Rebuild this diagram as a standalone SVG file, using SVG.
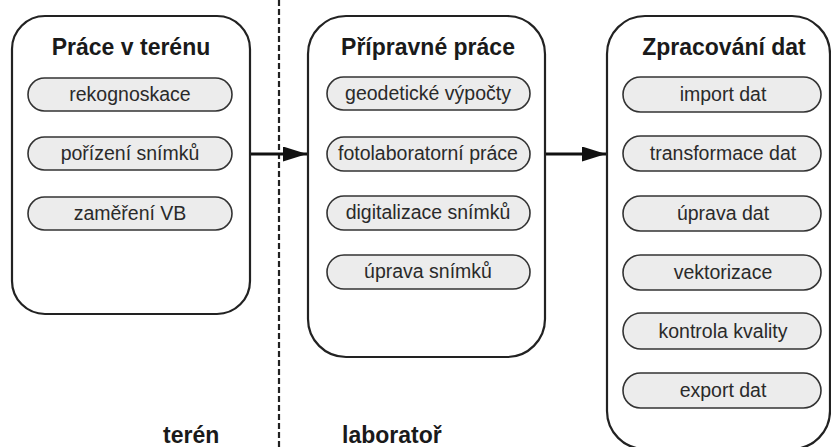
<svg xmlns="http://www.w3.org/2000/svg" width="831" height="447" viewBox="0 0 831 447">
<style>
.panel{fill:#fff;stroke:#222;stroke-width:2.2}
.pill{fill:#ececec;stroke:#333;stroke-width:1.6}
.title{font-family:"Liberation Sans",Arial,sans-serif;font-weight:bold;font-size:23px;fill:#1a1a1a;text-anchor:middle}
.item{font-family:"Liberation Sans",Arial,sans-serif;font-size:19.5px;fill:#2a2a2a;text-anchor:middle}
.zone{font-family:"Liberation Sans",Arial,sans-serif;font-weight:bold;font-size:23px;fill:#1a1a1a}
.conn{stroke:#111;stroke-width:3;fill:none}
</style>
<defs>
<marker id="ah" markerWidth="8" markerHeight="5" refX="8" refY="2.5" orient="auto" markerUnits="strokeWidth">
<path d="M0,0 L8,2.5 L0,5 Z" fill="#111"/>
</marker>
</defs>
<rect width="831" height="447" fill="#fff"/>
<line x1="279" y1="0" x2="279" y2="447" stroke="#222" stroke-width="2.2" stroke-dasharray="6 3"/>
<g id="teren">
<rect class="panel" x="12" y="16" width="238" height="298" rx="33"/>
<text class="title" x="131" y="55">Práce v terénu</text>
<rect class="pill" x="28" y="78" width="204" height="33" rx="16.5"/>
<text class="item" x="130" y="101">rekognoskace</text>
<rect class="pill" x="28" y="137" width="204" height="33" rx="16.5"/>
<text class="item" x="130" y="160">pořízení snímků</text>
<rect class="pill" x="28" y="197" width="204" height="33" rx="16.5"/>
<text class="item" x="130" y="220">zaměření VB</text>
</g>
<g id="pripravne">
<rect class="panel" x="308" y="16" width="237" height="341" rx="38"/>
<text class="title" x="428" y="55">Přípravné práce</text>
<rect class="pill" x="327" y="77" width="203" height="33" rx="16.5"/>
<text class="item" x="428" y="100">geodetické výpočty</text>
<rect class="pill" x="327" y="137" width="203" height="34" rx="17"/>
<text class="item" x="428" y="160">fotolaboratorní práce</text>
<rect class="pill" x="327" y="196" width="203" height="34" rx="17"/>
<text class="item" x="428" y="219">digitalizace snímků</text>
<rect class="pill" x="327" y="255" width="203" height="34" rx="17"/>
<text class="item" x="428" y="278">úprava snímků</text>
</g>
<g id="zpracovani">
<rect class="panel" x="607" y="16" width="223" height="433" rx="38"/>
<text class="title" x="724" y="55">Zpracování dat</text>
<rect class="pill" x="623" y="77" width="198" height="35" rx="17.5"/>
<text class="item" x="723" y="101">import dat</text>
<rect class="pill" x="623" y="136" width="198" height="35" rx="17.5"/>
<text class="item" x="723" y="160">transformace dat</text>
<rect class="pill" x="623" y="196" width="198" height="35" rx="17.5"/>
<text class="item" x="723" y="220">úprava dat</text>
<rect class="pill" x="623" y="255" width="198" height="35" rx="17.5"/>
<text class="item" x="723" y="279">vektorizace</text>
<rect class="pill" x="623" y="313" width="198" height="36" rx="18"/>
<text class="item" x="723" y="338">kontrola kvality</text>
<rect class="pill" x="623" y="373" width="198" height="35" rx="17.5"/>
<text class="item" x="723" y="397">export dat</text>
</g>
<g id="connectors">
<line class="conn" x1="251" y1="154" x2="307" y2="154" marker-end="url(#ah)"/>
<line class="conn" x1="546" y1="154" x2="606" y2="154" marker-end="url(#ah)"/>
</g>
<text class="zone" x="163" y="443">terén</text>
<text class="zone" x="342" y="443">laboratoř</text>
</svg>
